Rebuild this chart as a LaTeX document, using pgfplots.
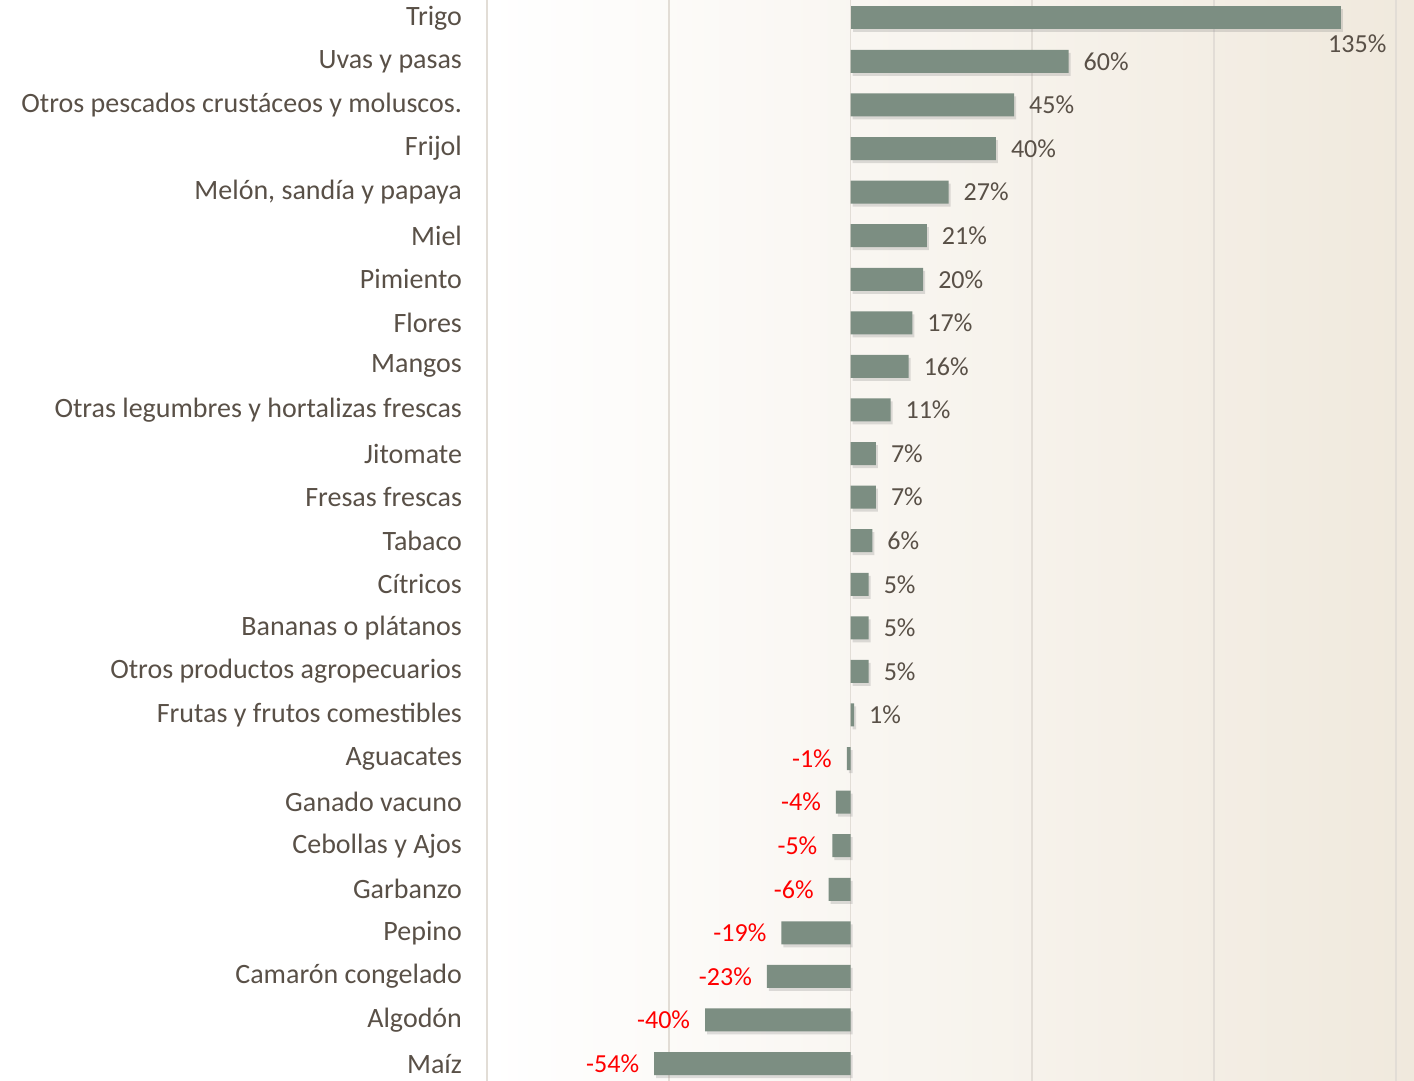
\documentclass[border=0pt]{standalone}
\usepackage{pgfplots}
\pgfplotsset{compat=1.18}
\usepackage{fontspec}
\setmainfont{Carlito}
\usetikzlibrary{shadows}

\definecolor{txt}{HTML}{595047}
\definecolor{barc}{HTML}{7C8E82}
\definecolor{gridc}{HTML}{E2DDD6}
\definecolor{beige}{HTML}{F0E9DD}
\definecolor{negred}{HTML}{FF0000}

\pgfplotstableread{
v y
60 23
45 22
40 21
27 20
21 19
20 18
17 17
16 16
11 15
7 14
7 13
6 12
5 11
5 10
5 9
1 8
}\pos
\pgfplotstableread{
v y
135 24
}\trigo
\pgfplotstableread{
v y
-1 7
-4 6
-5 5
-6 4
-19 3
-23 2
-40 1
-54 0
}\neg

\begin{document}
\begin{tikzpicture}
\begin{axis}[
    scale only axis, width=463.5pt, height=540.5pt,
    xbar, bar width=11.5pt, bar shift=0pt,
    xmin=-100, xmax=155, ymin=-0.4, ymax=24.41,
    xtick={-100,-50,...,150}, xticklabels={},
    xmajorgrids, grid style={gridc, line width=0.8pt},
    ytick={0,...,24},
    yticklabels={Maíz, Algodón, Camarón congelado, Pepino, Garbanzo,
        Cebollas y Ajos, Ganado vacuno, Aguacates, Frutas y frutos comestibles,
        Otros productos agropecuarios, Bananas o plátanos, Cítricos, Tabaco,
        Fresas frescas, Jitomate, Otras legumbres y hortalizas frescas, Mangos,
        Flores, Pimiento, Miel, {Melón, sandía y papaya}, Frijol,
        Otros pescados crustáceos y moluscos., Uvas y pasas, Trigo},
    axis line style={draw=none}, major tick length=0pt,
    tick label style={font=\fontsize{14}{16}\selectfont, text=txt},
    yticklabel style={xshift=-9pt},
    axis background/.style={shade, left color=white, right color=beige},
    point meta=x,
    /pgf/number format/assume math mode=true,
    every node near coord/.append style={font=\fontsize{13}{15}\selectfont},
    clip=false,
    base/.style={draw=none, fill=barc,
        drop shadow={shadow xshift=1pt, shadow yshift=-1.5pt, opacity=0.25}},
]
% positives
\addplot[base, nodes near coords={\pgfmathprintnumber{\pgfplotspointmeta}\%},
    nodes near coords style={anchor=west, xshift=4pt, text=txt}]
    table[x=v, y=y] {\pos};
% Trigo
\addplot[base, nodes near coords={\pgfmathprintnumber{\pgfplotspointmeta}\%},
    nodes near coords style={anchor=center, xshift=8pt, yshift=-13pt, text=txt}]
    table[x=v, y=y] {\trigo};
% negatives
\addplot[base, nodes near coords={\pgfmathprintnumber{\pgfplotspointmeta}\%},
    nodes near coords style={anchor=east, xshift=-4pt, text=negred}]
    table[x=v, y=y] {\neg};
\end{axis}
\pgfresetboundingbox
\path[use as bounding box] ([xshift=-243.5pt]current axis.south west) rectangle (current axis.north east);
\end{tikzpicture}
\end{document}
